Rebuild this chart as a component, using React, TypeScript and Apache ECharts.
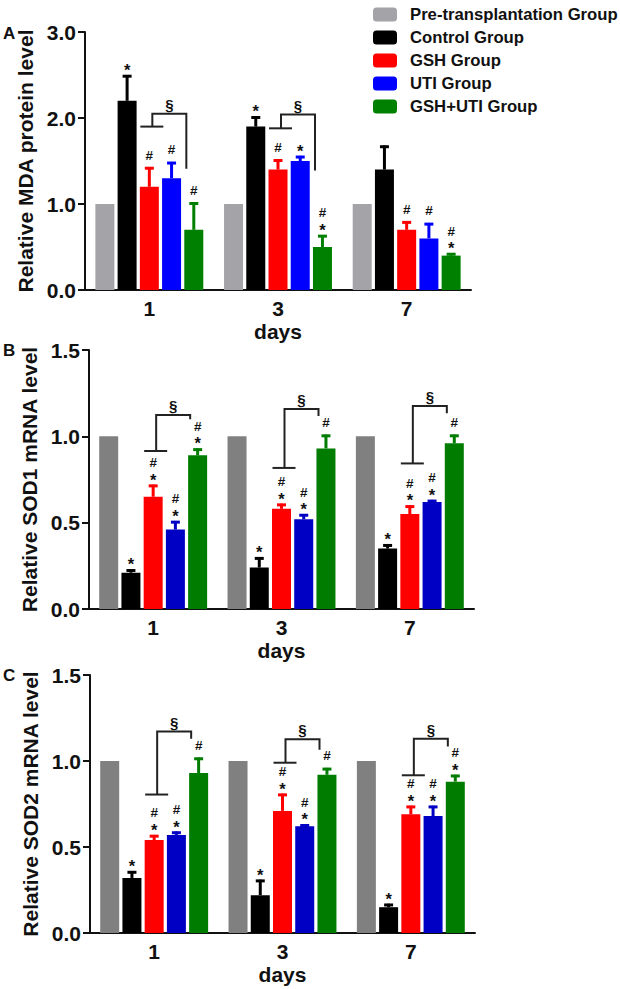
import React, { useEffect, useRef } from "react";
import * as echarts from "echarts";

const FONT = '"Liberation Sans", Arial, Helvetica, sans-serif';
const TXT = "#111111";

const categories = ["1", "3", "7"];
const groupNames = [
  "Pre-transplantation Group",
  "Control Group",
  "GSH Group",
  "UTI Group",
  "GSH+UTI Group",
];

// Panel A: MDA protein
const mdaPre = [1, 1, 1];
const mdaControl = [2.2, 1.9, 1.4];
const mdaGSH = [1.2, 1.4, 0.7];
const mdaUTI = [1.3, 1.5, 0.6];
const mdaCombo = [0.7, 0.5, 0.4];
const mdaPreErr = [0, 0, 0];
const mdaControlErr = [0.3, 0.12, 0.28];
const mdaGSHErr = [0.23, 0.12, 0.1];
const mdaUTIErr = [0.19, 0.06, 0.18];
const mdaComboErr = [0.32, 0.14, 0.03];
const mdaMarks = [
  ["", "*", "#", "#", "#"],
  ["", "*", "#", "*", "#*"],
  ["", "", "#", "#", "#*"],
];
const mdaBracketLow = [1.9, 1.88, null];
const mdaBracketHigh = [2.05, 2.04, null];
const mdaBracketEnd = [1.41, 1.39, null];

// Panel B: SOD1 mRNA
const sod1Pre = [1, 1, 1];
const sod1Control = [0.21, 0.24, 0.35];
const sod1GSH = [0.65, 0.58, 0.55];
const sod1UTI = [0.46, 0.52, 0.62];
const sod1Combo = [0.89, 0.93, 0.96];
const sod1PreErr = [0, 0, 0];
const sod1ControlErr = [0.02, 0.06, 0.025];
const sod1GSHErr = [0.07, 0.03, 0.05];
const sod1UTIErr = [0.05, 0.03, 0.012];
const sod1ComboErr = [0.04, 0.08, 0.05];
const sod1Marks = [
  ["", "*", "#*", "#*", "#*"],
  ["", "*", "#*", "#*", "#"],
  ["", "*", "#*", "#*", "#"],
];
const sod1BracketLow = [0.915, 0.817, 0.843];
const sod1BracketHigh = [1.124, 1.159, 1.176];
const sod1BracketEnd = [1.099, 1.118, 1.134];

// Panel C: SOD2 mRNA
const sod2Pre = [1, 1, 1];
const sod2Control = [0.32, 0.22, 0.15];
const sod2GSH = [0.54, 0.71, 0.69];
const sod2UTI = [0.57, 0.62, 0.68];
const sod2Combo = [0.93, 0.92, 0.88];
const sod2PreErr = [0, 0, 0];
const sod2ControlErr = [0.04, 0.09, 0.02];
const sod2GSHErr = [0.03, 0.1, 0.05];
const sod2UTIErr = [0.02, 0.012, 0.06];
const sod2ComboErr = [0.09, 0.04, 0.04];
const sod2Marks = [
  ["", "*", "#*", "#*", "#"],
  ["", "*", "#*", "#*", "#"],
  ["", "*", "#*", "#*", "#*"],
];
const sod2BracketLow = [0.805, 0.99, 0.917];
const sod2BracketHigh = [1.171, 1.127, 1.129];
const sod2BracketEnd = [1.129, 1.065, 1.085];

const yTicksA = { max: 3, interval: 1 };
const yTicksBC = { max: 1.5, interval: 0.5 };

const colorsA = ["#a3a3a8", "#000000", "#ff0000", "#0000ff", "#008000"];
const colorsBC = ["#808080", "#000000", "#ff0000", "#0000c4", "#007d00"];

const BAR_W = 19;
const BAR_GAP = 0.17;
const PITCH = BAR_W * (1 + BAR_GAP);

const panels = [
  {
    yName: "Relative MDA protein level",
    values: [mdaPre, mdaControl, mdaGSH, mdaUTI, mdaCombo],
    errs: [mdaPreErr, mdaControlErr, mdaGSHErr, mdaUTIErr, mdaComboErr],
    marks: mdaMarks,
    bLow: mdaBracketLow,
    bHigh: mdaBracketHigh,
    bEnd: mdaBracketEnd,
    ticks: yTicksA,
    colors: colorsA,
    grid: { left: 85, top: 32, width: 386, height: 258 },
  },
  {
    yName: "Relative SOD1 mRNA level",
    values: [sod1Pre, sod1Control, sod1GSH, sod1UTI, sod1Combo],
    errs: [sod1PreErr, sod1ControlErr, sod1GSHErr, sod1UTIErr, sod1ComboErr],
    marks: sod1Marks,
    bLow: sod1BracketLow,
    bHigh: sod1BracketHigh,
    bEnd: sod1BracketEnd,
    ticks: yTicksBC,
    colors: colorsBC,
    grid: { left: 89, top: 350, width: 385, height: 259 },
  },
  {
    yName: "Relative SOD2 mRNA level",
    values: [sod2Pre, sod2Control, sod2GSH, sod2UTI, sod2Combo],
    errs: [sod2PreErr, sod2ControlErr, sod2GSHErr, sod2UTIErr, sod2ComboErr],
    marks: sod2Marks,
    bLow: sod2BracketLow,
    bHigh: sod2BracketHigh,
    bEnd: sod2BracketEnd,
    ticks: yTicksBC,
    colors: colorsBC,
    grid: { left: 90, top: 675, width: 385, height: 258 },
  },
];

function buildOption() {
  const grids: any[] = [];
  const xAxes: any[] = [];
  const yAxes: any[] = [];
  const barSeries: any[] = [];
  const extraSeries: any[] = [];

  panels.forEach((p, pi) => {
    grids.push({ ...p.grid, containLabel: false });
    xAxes.push({
      type: "category",
      gridIndex: pi,
      data: categories,
      name: "days",
      nameLocation: "middle",
      nameGap: 31,
      nameTextStyle: { fontSize: 21, fontWeight: "bold", fontFamily: FONT, color: TXT },
      axisLine: { lineStyle: { color: TXT, width: 2 } },
      axisTick: { alignWithLabel: true, length: 7, lineStyle: { color: TXT, width: 2 } },
      axisLabel: { fontSize: 21, fontWeight: "bold", fontFamily: FONT, color: TXT, margin: 8 },
      splitLine: { show: false },
    });
    yAxes.push({
      type: "value",
      gridIndex: pi,
      min: 0,
      max: p.ticks.max,
      interval: p.ticks.interval,
      name: p.yName,
      nameLocation: "middle",
      nameGap: 45,
      nameTextStyle: { fontSize: 21, fontWeight: "bold", fontFamily: FONT, color: TXT },
      axisLine: { show: true, lineStyle: { color: TXT, width: 2 } },
      axisTick: { show: true, length: 7, lineStyle: { color: TXT, width: 2 } },
      axisLabel: {
        fontSize: 21,
        fontWeight: "bold",
        fontFamily: FONT,
        color: TXT,
        margin: 9,
        formatter: (v: number) => v.toFixed(1),
      },
      splitLine: { show: false },
    });

    p.values.forEach((vals, g) => {
      barSeries.push({
        type: "bar",
        name: groupNames[g],
        xAxisIndex: pi,
        yAxisIndex: pi,
        data: vals,
        barWidth: BAR_W,
        barGap: `${BAR_GAP * 100}%`,
        itemStyle: { color: p.colors[g] },
        emphasis: { disabled: true },
        z: 2,
      });
    });

    const errData: number[][] = [];
    const markData: number[][] = [];
    categories.forEach((_, c) => {
      for (let g = 0; g < 5; g++) {
        errData.push([c, g, p.values[g][c], p.errs[g][c]]);
        markData.push([c, g, p.values[g][c] + p.errs[g][c]]);
      }
    });
    const colors = p.colors;
    extraSeries.push({
      type: "custom",
      name: `err${pi}`,
      xAxisIndex: pi,
      yAxisIndex: pi,
      coordinateSystem: "cartesian2d",
      data: errData,
      encode: { x: 0, y: 2 },
      silent: true,
      z: 4,
      renderItem: (params: any, api: any) => {
        const c = api.value(0);
        const g = api.value(1);
        const v = api.value(2);
        const e = api.value(3);
        if (!e) return { type: "group", children: [] };
        const base = api.coord([c, v]);
        const top = api.coord([c, v + e]);
        const x = base[0] + (g - 2) * PITCH;
        const col = colors[g];
        return {
          type: "group",
          children: [
            {
              type: "line",
              shape: { x1: x, y1: base[1], x2: x, y2: top[1] },
              style: { stroke: col, lineWidth: 3 },
            },
            {
              type: "line",
              shape: { x1: x - 4.5, y1: top[1] + 1.2, x2: x + 4.5, y2: top[1] + 1.2 },
              style: { stroke: col, lineWidth: 3 },
            },
          ],
        };
      },
    });

    const marks = p.marks;
    extraSeries.push({
      type: "custom",
      name: `marks${pi}`,
      xAxisIndex: pi,
      yAxisIndex: pi,
      coordinateSystem: "cartesian2d",
      data: markData,
      encode: { x: 0, y: 2 },
      silent: true,
      z: 5,
      renderItem: (params: any, api: any) => {
        const c = api.value(0);
        const g = api.value(1);
        const topV = api.value(2);
        const m = marks[c][g];
        if (!m) return { type: "group", children: [] };
        const pt = api.coord([c, topV]);
        const x = pt[0] + (g - 2) * PITCH;
        const hasStar = m.indexOf("*") >= 0;
        const hasHash = m.indexOf("#") >= 0;
        const children: any[] = [];
        const mk = (s: string, y: number, size: number) => ({
          type: "text",
          x,
          y,
          style: {
            text: s,
            fill: TXT,
            fontSize: size,
            fontWeight: "bold",
            fontFamily: FONT,
            align: "center",
            verticalAlign: "middle",
            textAlign: "center",
            textVerticalAlign: "middle",
          },
        });
        if (hasStar) children.push(mk("*", pt[1] - 5, 16.5));
        if (hasHash) children.push(mk("#", pt[1] - (hasStar ? 22 : 12), 13.5));
        return { type: "group", children };
      },
    });

    const bData: number[][] = [];
    categories.forEach((_, c) => {
      if (p.bLow[c] != null) bData.push([c, p.bLow[c] as number, p.bHigh[c] as number, p.bEnd[c] as number]);
    });
    extraSeries.push({
      type: "custom",
      name: `brackets${pi}`,
      xAxisIndex: pi,
      yAxisIndex: pi,
      coordinateSystem: "cartesian2d",
      data: bData,
      encode: { x: 0, y: 2 },
      silent: true,
      z: 5,
      renderItem: (params: any, api: any) => {
        const c = api.value(0);
        const lo = api.coord([c, api.value(1)]);
        const hi = api.coord([c, api.value(2)]);
        const en = api.coord([c, api.value(3)]);
        const cx = lo[0];
        const st = { stroke: "#222", lineWidth: 2, fill: "none" };
        return {
          type: "group",
          children: [
            { type: "line", shape: { x1: cx - 9, y1: lo[1], x2: cx + 14, y2: lo[1] }, style: st },
            {
              type: "polyline",
              shape: {
                points: [
                  [cx + 3, lo[1]],
                  [cx + 3, hi[1]],
                  [cx + 37, hi[1]],
                  [cx + 37, en[1]],
                ],
              },
              style: st,
            },
            {
              type: "text",
              x: cx + 20,
              y: hi[1] - 2,
              style: {
                text: "§",
                fill: TXT,
                fontSize: 15,
                fontWeight: "bold",
                fontFamily: FONT,
                align: "center",
                verticalAlign: "bottom",
                textAlign: "center",
                textVerticalAlign: "bottom",
              },
            },
          ],
        };
      },
    });
  });

  return {
    animation: false,
    backgroundColor: "#ffffff",
    textStyle: { fontFamily: FONT },
    grid: grids,
    xAxis: xAxes,
    yAxis: yAxes,
    legend: {
      orient: "vertical",
      left: 368,
      top: 1,
      itemWidth: 24,
      itemHeight: 14,
      itemGap: 6,
      icon: "roundRect",
      selectedMode: false,
      data: groupNames,
      textStyle: {
        fontSize: 16.7,
        fontWeight: "bold",
        fontFamily: FONT,
        color: TXT,
        lineHeight: 17,
        padding: [0, 0, 0, 8],
      },
    },
    graphic: [
      { type: "text", left: 3, top: 25, style: { text: "A", fontSize: 17, fontWeight: "bold", fontFamily: FONT, fill: TXT } },
      { type: "text", left: 3, top: 342, style: { text: "B", fontSize: 17, fontWeight: "bold", fontFamily: FONT, fill: TXT } },
      { type: "text", left: 3, top: 667, style: { text: "C", fontSize: 17, fontWeight: "bold", fontFamily: FONT, fill: TXT } },
    ],
    series: [...barSeries, ...extraSeries],
  };
}

export default function App() {
  const ref = useRef<HTMLDivElement>(null);
  useEffect(() => {
    document.body.style.margin = "0";
    if (!ref.current) return;
    const chart = echarts.init(ref.current, undefined, { renderer: "svg" });
    chart.setOption(buildOption() as any);
    return () => chart.dispose();
  }, []);
  return (
    <div
      ref={ref}
      style={{ position: "absolute", left: 0, top: 0, width: 620, height: 989, background: "#fff" }}
    />
  );
}
